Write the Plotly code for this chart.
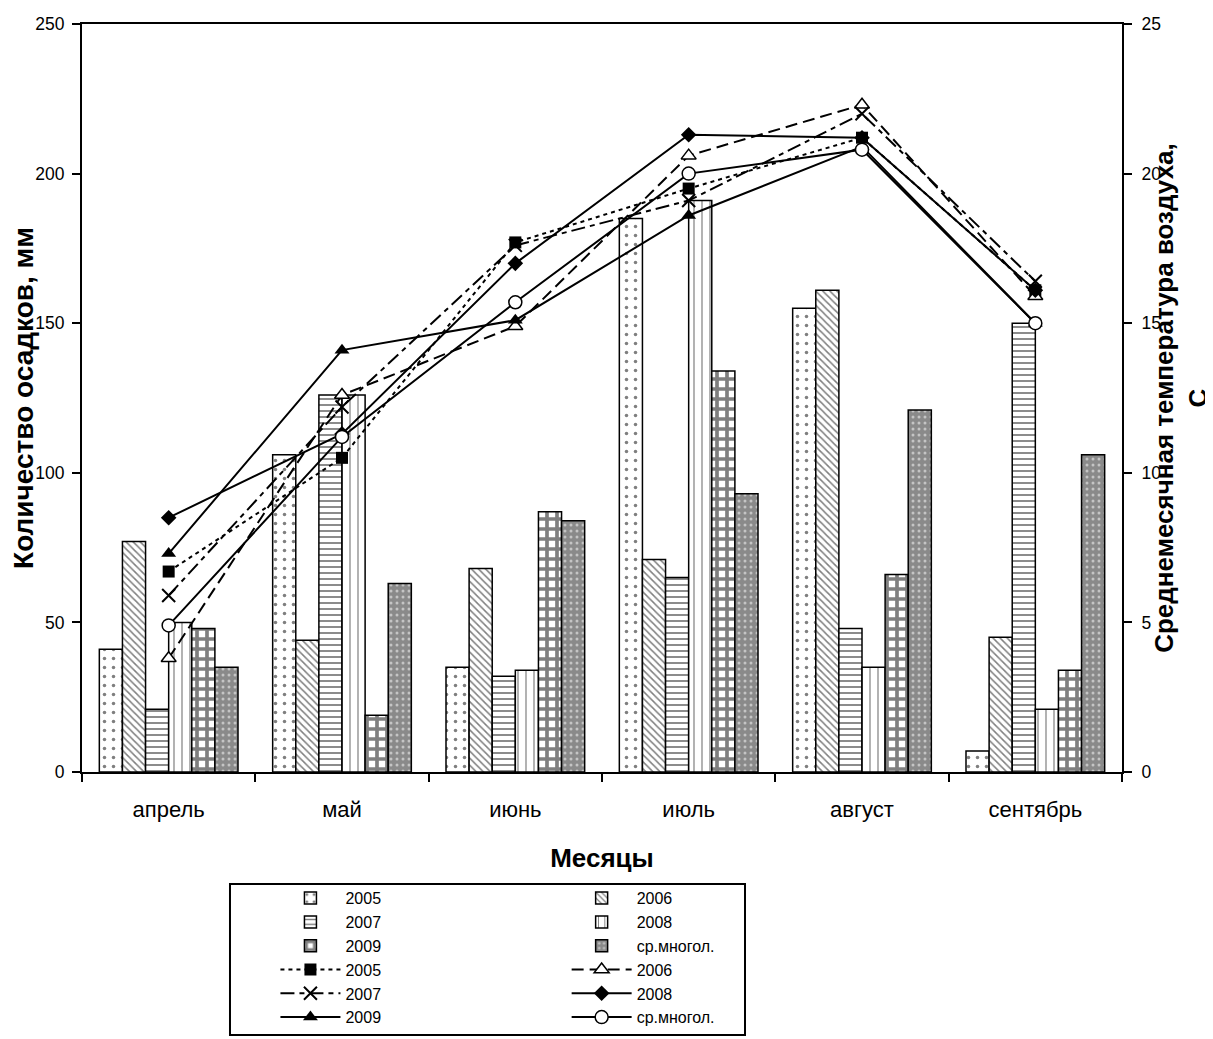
import plotly.graph_objects as go

months = ["апрель", "май", "июнь", "июль", "август", "сентябрь"]

# Precipitation, mm (bars, left axis)
precip_2005 = [41, 106, 35, 185, 155, 7]
precip_2006 = [77, 44, 68, 71, 161, 45]
precip_2007 = [21, 126, 32, 65, 48, 150]
precip_2008 = [50, 126, 34, 191, 35, 21]
precip_2009 = [48, 19, 87, 134, 66, 34]
precip_avg = [35, 63, 84, 93, 121, 106]

# Mean monthly air temperature, C (lines, right axis)
temp_2005 = [6.7, 10.5, 17.7, 19.5, 21.2, 16.1]
temp_2006 = [3.8, 12.6, 14.9, 20.6, 22.3, 15.9]
temp_2007 = [5.9, 12.2, 17.6, 19.1, 22.0, 16.4]
temp_2008 = [8.5, 11.3, 17.0, 21.3, 21.2, 16.1]
temp_2009 = [7.3, 14.1, 15.1, 18.6, 20.9, 15.0]
temp_avg = [4.9, 11.2, 15.7, 20.0, 20.8, 15.0]

FONT = "Liberation Sans, Arial, sans-serif"

fig = go.Figure()

bar_specs = [
    ("2005", precip_2005, dict(shape=".", size=9, solidity=0.12, fgcolor="black", bgcolor="white"), "legend"),
    ("2006", precip_2006, dict(shape="\\", size=5, solidity=0.3, fgcolor="black", bgcolor="white"), "legend2"),
    ("2007", precip_2007, dict(shape="-", size=6, solidity=0.3, fgcolor="black", bgcolor="white"), "legend"),
    ("2008", precip_2008, dict(shape="|", size=8, solidity=0.15, fgcolor="black", bgcolor="white"), "legend2"),
    ("2009", precip_2009, dict(shape="+", size=10, solidity=0.6, fgcolor="black", bgcolor="white"), "legend"),
    ("ср.многол.", precip_avg, dict(shape=".", size=6, solidity=0.2, fgcolor="white", bgcolor="#8a8a8a"), "legend2"),
]
for name, vals, pat, lg in bar_specs:
    fig.add_trace(go.Bar(
        x=months, y=vals, name=name, legend=lg,
        marker=dict(color="white", pattern=pat, line=dict(color="black", width=1.5)),
        yaxis="y",
    ))

line_specs = [
    ("2005", temp_2005, "4px,4px", dict(symbol="square", size=12, color="black"), "legend"),
    ("2006", temp_2006, "12px,6px", dict(symbol="triangle-up", size=13, color="white", line=dict(color="black", width=1.5)), "legend2"),
    ("2007", temp_2007, "14px,5px,5px,5px", dict(symbol="x-thin-open", size=13, color="black", line=dict(color="black", width=2)), "legend"),
    ("2008", temp_2008, "solid", dict(symbol="diamond", size=12, color="black"), "legend2"),
    ("2009", temp_2009, "solid", dict(symbol="triangle-up", size=13, color="black"), "legend"),
    ("ср.многол.", temp_avg, "solid", dict(symbol="circle", size=13, color="white", line=dict(color="black", width=1.5)), "legend2"),
]
for name, vals, dash, mk, lg in line_specs:
    fig.add_trace(go.Scatter(
        x=months, y=vals, name=name, legend=lg, mode="lines+markers",
        line=dict(color="black", width=2, dash=dash),
        marker=mk, yaxis="y2",
    ))

leg_common = dict(
    font=dict(family=FONT, size=16, color="black"),
    bgcolor="rgba(0,0,0,0)", traceorder="normal", tracegroupgap=0,
    orientation="v", yanchor="top", xanchor="left", itemwidth=60,
)

# the page places the figure 8px from the top-left corner, so the figure is 8px smaller
fig.update_layout(
    width=1205, height=1031,
    margin=dict(l=74, r=91, t=16, b=267, autoexpand=False),
    paper_bgcolor="white", plot_bgcolor="white",
    font=dict(family=FONT, color="black"),
    barmode="group", bargap=0.2, bargroupgap=0,
    showlegend=True,
    legend=dict(x=0.186, y=-0.146, **leg_common),
    legend2=dict(x=0.466, y=-0.146, **leg_common),
    xaxis=dict(
        tickson="boundaries", ticks="outside", ticklen=8, tickwidth=2, tickcolor="black",
        ticklabelstandoff=17,
        showline=True, linecolor="black", linewidth=2, mirror=True,
        tickfont=dict(family=FONT, size=22, color="black"),
        title=dict(text="<b>Месяцы</b>", font=dict(family=FONT, size=26, color="black"), standoff=27),
        showgrid=False, automargin=False,
    ),
    yaxis=dict(
        range=[0, 250], dtick=50, ticks="outside", ticklen=8, tickwidth=2, tickcolor="black",
        ticklabelstandoff=4,
        showline=True, linecolor="black", linewidth=2,
        tickfont=dict(family=FONT, size=17.5, color="black"),
        showgrid=False, zeroline=False, automargin=False,
        title=dict(text="<b>Количество осадков, мм</b>", font=dict(family=FONT, size=28, color="black"), standoff=0),
    ),
    yaxis2=dict(
        range=[0, 25], dtick=5, overlaying="y", side="right",
        ticks="outside", ticklen=8, tickwidth=2, tickcolor="black",
        ticklabelstandoff=6,
        showline=True, linecolor="black", linewidth=2,
        tickfont=dict(family=FONT, size=17.5, color="black"),
        showgrid=False, zeroline=False, automargin=False,
        title=dict(text="<b>Среднемесячная температура воздуха,<br>С</b>", font=dict(family=FONT, size=26, color="black"), standoff=0),
    ),
    shapes=[dict(
        type="rect", xref="paper", yref="paper",
        x0=0.1423, x1=0.6375, y0=-0.3516, y1=-0.1497,
        line=dict(color="black", width=2), fillcolor="rgba(0,0,0,0)", layer="above",
    )],
)

fig.write_html("out.html")
